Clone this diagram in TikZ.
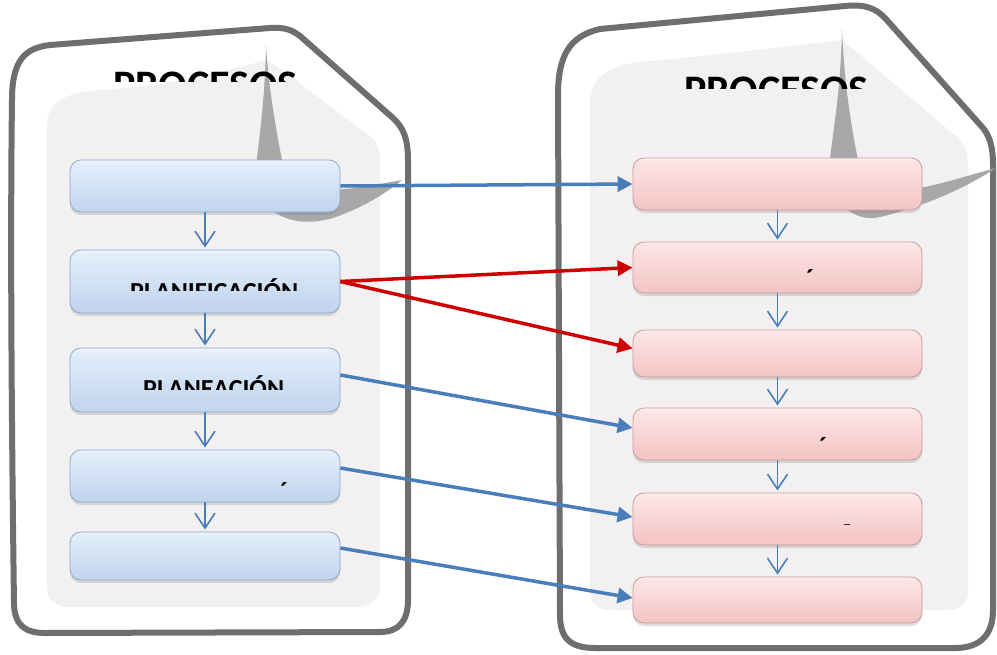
\documentclass[tikz,border=0pt]{standalone}
\usepackage{fontspec}
\setmainfont{Carlito}
\usetikzlibrary{arrows.meta,shadows}
\definecolor{conblue}{HTML}{4A7EBB}
\definecolor{conred}{HTML}{D00000}
\definecolor{docline}{HTML}{6E6E6E}
\definecolor{panel}{HTML}{F2F0F0}
\definecolor{curl}{HTML}{A8A8A8}
\definecolor{bA}{HTML}{B2C9E6}
\definecolor{bB}{HTML}{C6D9F0}
\definecolor{bC}{HTML}{E4EEFA}
\definecolor{pA}{HTML}{EDB3B3}
\definecolor{pB}{HTML}{F5CACA}
\definecolor{pC}{HTML}{FDE5E5}
\definecolor{bEdge}{HTML}{8FA8CC}
\definecolor{pEdge}{HTML}{C59C9C}
\pgfdeclareverticalshading{blueglass}{100bp}{color(0bp)=(bA); color(35bp)=(bB); color(72bp)=(bC); color(80bp)=(white); color(100bp)=(white)}
\pgfdeclareverticalshading{pinkglass}{100bp}{color(0bp)=(pA); color(35bp)=(pB); color(72bp)=(pC); color(80bp)=(white); color(100bp)=(white)}
\tikzset{
  docborder/.style={line width=6pt, draw=docline, fill=white, line join=round},
  bluebox/.style={rectangle, rounded corners=11pt, shading=blueglass, draw=bEdge, line width=0.8pt, minimum width=270pt, inner sep=0pt,
     drop shadow={shadow xshift=0pt, shadow yshift=-3pt, opacity=0.25}},
  pinkbox/.style={rectangle, rounded corners=11pt, shading=pinkglass, draw=pEdge, line width=0.8pt, minimum width=289pt, inner sep=0pt,
     drop shadow={shadow xshift=0pt, shadow yshift=-3pt, opacity=0.25}},
  downarrow/.style={draw=conblue, line width=1.6pt, -{Straight Barb[length=15pt, width=20pt, line width=1.6pt]}, shorten >=2pt},
  connb/.style={draw=conblue, line width=3.5pt, -{Triangle[length=15pt, width=15pt]}},
  connr/.style={draw=conred, line width=3.5pt, -{Triangle[length=15pt, width=15pt]}},
  bigtitle/.style={inner sep=0pt, anchor=base west, font=\fontsize{42pt}{42pt}\selectfont\bfseries},
  boxtext/.style={inner sep=0pt, anchor=base west, font=\fontsize{26pt}{26pt}\selectfont\bfseries},
}
\begin{document}
\begin{tikzpicture}[x=1pt,y=-1pt]
\useasboundingbox (0,0) rectangle (997,654);
\fill[white] (0,0) rectangle (997,654);

% ---------- left document ----------
\draw[docborder] (12,100) .. controls (12,60) and (25,48) .. (50,45) -- (270,28)
  .. controls (285,27) and (292,30) .. (300,36) -- (393,118)
  .. controls (404,128) and (408,140) .. (408,160) -- (408,600)
  .. controls (408,622) and (398,632) .. (380,632) -- (45,633)
  .. controls (25,633) and (15,625) .. (14,605) .. controls (12,450) and (10,250) .. (12,100) -- cycle;
\fill[panel] (47,585) -- (47,125) .. controls (47,100) and (70,92) .. (100,90)
  .. controls (180,85) and (230,70) .. (266,60) -- (285,72) -- (372,138)
  .. controls (378,143) and (380,150) .. (380,162) -- (380,585)
  .. controls (380,600) and (370,607) .. (355,607) -- (70,607)
  .. controls (55,607) and (47,600) .. (47,585) -- cycle;
\fill[curl] (266,45) .. controls (265,100) and (259,140) .. (255,175)
  .. controls (258,212) and (290,230) .. (333,218)
  .. controls (362,208) and (385,194) .. (402,180)
  .. controls (380,184) and (360,188) .. (335,190) -- (282,160)
  .. controls (274,120) and (268,80) .. (266,45) -- cycle;

% ---------- right document ----------
\draw[docborder] (558,95) .. controls (558,55) and (570,36) .. (600,29) -- (845,6)
  .. controls (865,4) and (875,8) .. (885,18) -- (983,128)
  .. controls (991,138) and (993,150) .. (993,165) -- (993,610)
  .. controls (993,635) and (980,648) .. (955,648) -- (595,648)
  .. controls (570,648) and (560,638) .. (560,615) -- cycle;
\fill[panel] (590,590) -- (590,100) .. controls (592,76) and (610,66) .. (640,62)
  .. controls (720,55) and (800,45) .. (842,40) -- (860,55) -- (958,138)
  .. controls (965,145) and (968,152) .. (968,165) -- (968,590)
  .. controls (968,603) and (960,610) .. (948,610) -- (610,610)
  .. controls (598,610) and (590,603) .. (590,590) -- cycle;
\fill[curl] (842,28) .. controls (841,90) and (833,130) .. (828,175)
  .. controls (835,210) and (860,222) .. (880,217)
  .. controls (930,205) and (970,185) .. (996,168)
  .. controls (970,175) and (945,183) .. (920,188) -- (858,160)
  .. controls (850,120) and (844,80) .. (842,28) -- cycle;

% ---------- titles (cut off as in the picture) ----------
\begin{scope}
  \clip (90,55) rectangle (320,81.5);
  \node[bigtitle] (titleL) at (113,99) {PROCESOS};
\end{scope}
\begin{scope}
  \clip (660,60) rectangle (890,88.5);
  \node[bigtitle] (titleR) at (684,104) {PROCESOS};
\end{scope}

% ---------- left boxes ----------
\node[bluebox, minimum height=52pt] (L1) at (205,186) {};
\node[bluebox, minimum height=63pt] (L2) at (205,281.5) {};
\node[bluebox, minimum height=64pt] (L3) at (205,380) {};
\node[bluebox, minimum height=52pt] (L4) at (205,476) {};
\node[bluebox, minimum height=48pt] (L5) at (205,556) {};

% ---------- right boxes ----------
\node[pinkbox, minimum height=52pt] (R1) at (777.5,184) {};
\node[pinkbox, minimum height=51pt] (R2) at (777.5,267.5) {};
\node[pinkbox, minimum height=47pt] (R3) at (777.5,353.5) {};
\node[pinkbox, minimum height=52pt] (R4) at (777.5,434) {};
\node[pinkbox, minimum height=52pt] (R5) at (777.5,519) {};
\node[pinkbox, minimum height=46pt] (R6) at (777.5,600) {};

% ---------- box texts (cut off as in the picture) ----------
\begin{scope}
  \clip (110,270) rectangle (320,290.5);
  \node[boxtext] (txtL2) at (130,300) {PLANIFICACIÓN};
\end{scope}
\begin{scope}
  \clip (120,370) rectangle (320,389.5);
  \node[boxtext] (txtL3) at (143,397) {PLANEACIÓN};
\end{scope}
\begin{scope}
  \clip (270,470) rectangle (300,487);
  \node[boxtext] (accL4) at (280,500) {´};
\end{scope}
\begin{scope}
  \clip (800,262) rectangle (830,274);
  \node[boxtext] (accR2) at (806,287) {´};
\end{scope}
\begin{scope}
  \clip (812,430) rectangle (840,442);
  \node[boxtext] (accR4) at (819,455) {´};
\end{scope}
\begin{scope}
  \clip (840,520) rectangle (860,524);
  \node[boxtext] (accR5) at (843,533) {-};
\end{scope}

% ---------- vertical arrows ----------
\draw[downarrow] (L1.south) -- (L2.north);
\draw[downarrow] (L2.south) -- (L3.north);
\draw[downarrow] (L3.south) -- (L4.north);
\draw[downarrow] (L4.south) -- (L5.north);
\draw[downarrow] (R1.south) -- (R2.north);
\draw[downarrow] (R2.south) -- (R3.north);
\draw[downarrow] (R3.south) -- (R4.north);
\draw[downarrow] (R4.south) -- (R5.north);
\draw[downarrow] (R5.south) -- (R6.north);

% ---------- connectors ----------
\draw[connb] (L1.east) -- (R1.west);
\draw[connr] (L2.east) -- (R2.west);
\draw[connr] (L2.east) -- ([yshift=5pt]R3.west);
\draw[connb] ([yshift=5pt]L3.east) -- ([yshift=6pt]R4.west);
\draw[connb] ([yshift=8pt]L4.east) -- ([yshift=2pt]R5.west);
\draw[connb] ([yshift=8pt]L5.east) -- ([yshift=2pt]R6.west);
\end{tikzpicture}
\end{document}
